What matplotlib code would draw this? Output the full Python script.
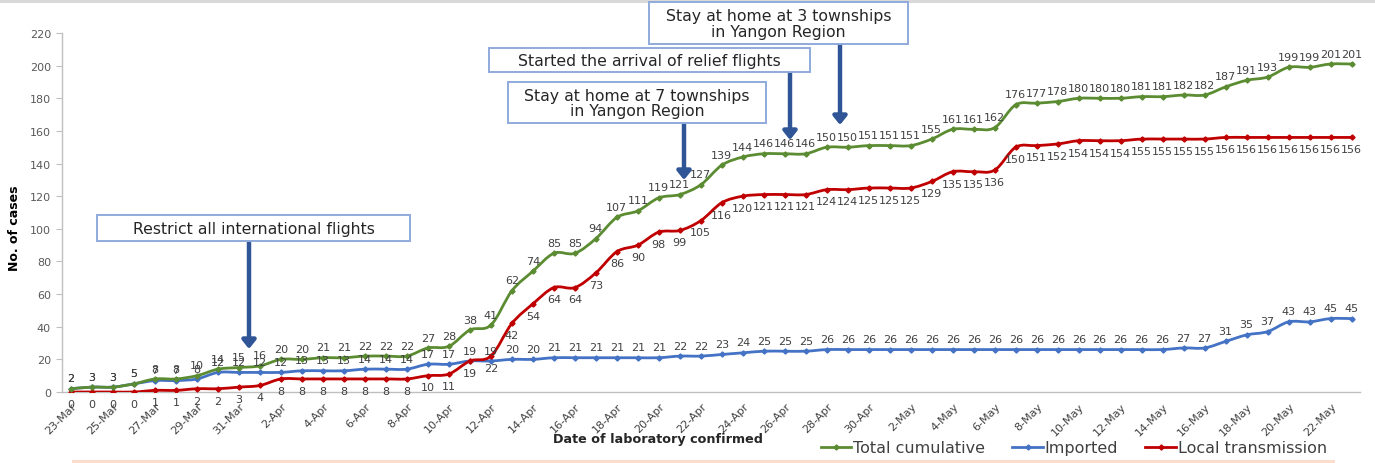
import matplotlib
matplotlib.use("Agg")
import matplotlib.pyplot as plt
import matplotlib.transforms as mtransforms
from matplotlib.path import Path
from matplotlib.patches import PathPatch, Rectangle, FancyArrowPatch
from matplotlib.lines import Line2D
import datetime as dt

# ---------------- data ----------------
start_date = dt.date(2020, 3, 23)
n_days = 62
dates = [start_date + dt.timedelta(days=i) for i in range(n_days)]
date_labels = [f"{d.day}-{d.strftime('%b')}" for d in dates]

total = [2, 3, 3, 5, 8, 8, 10, 14, 15, 16, 20, 20, 21, 21, 22, 22, 22, 27, 28,
         38, 41, 62, 74, 85, 85, 94, 107, 111, 119, 121, 127, 139, 144, 146,
         146, 146, 150, 150, 151, 151, 151, 155, 161, 161, 162, 176, 177, 178,
         180, 180, 180, 181, 181, 182, 182, 187, 191, 193, 199, 199, 201, 201]
imported = [2, 3, 3, 5, 7, 7, 8, 12, 12, 12, 12, 13, 13, 13, 14, 14, 14, 17, 17,
            19, 19, 20, 20, 21, 21, 21, 21, 21, 21, 22, 22, 23, 24, 25, 25, 25,
            26, 26, 26, 26, 26, 26, 26, 26, 26, 26, 26, 26, 26, 26, 26, 26, 26,
            27, 27, 31, 35, 37, 43, 43, 45, 45]
local = [0, 0, 0, 0, 1, 1, 2, 2, 3, 4, 8, 8, 8, 8, 8, 8, 8, 10, 11, 19, 22, 42,
         54, 64, 64, 73, 86, 90, 98, 99, 105, 116, 120, 121, 121, 121, 124, 124,
         125, 125, 125, 129, 135, 135, 136, 150, 151, 152, 154, 154, 154, 155,
         155, 155, 155, 156, 156, 156, 156, 156, 156, 156]

series_names = ["Total cumulative", "Imported", "Local transmission"]
y_ticks = list(range(0, 221, 20))

annotations = [
    ("Restrict all international flights", (97, 216, 410, 242), (249, 242, 350)),
    ("Stay at home at 7 townships\nin Yangon Region", (508, 83, 766, 124), (684, 124, 181)),
    ("Started the arrival of relief flights", (489, 49, 810, 73), (790, 73, 141)),
    ("Stay at home at 3 townships\nin Yangon Region", (649, 3, 908, 45), (840, 45, 126)),
]

# ---------------- figure ----------------
W, H = 1375, 464
fig = plt.figure(figsize=(W / 100, H / 100), dpi=100)
fx = lambda x: x / W
fy = lambda y: 1 - y / H

ax = fig.add_axes([fx(62), fy(393), (1360 - 62) / W, (393 - 34) / H])
ax.set_xlim(-0.43, 61.4)
ax.set_ylim(0, 220)

GREEN, BLUE, RED = "#5b8c32", "#4472c4", "#c00000"
TXT = "#404040"


def smooth_path(xs, ys):
    pts = list(zip(xs, ys))
    n = len(pts)
    verts = [pts[0]]
    codes = [Path.MOVETO]
    for i in range(n - 1):
        p0 = pts[i - 1] if i > 0 else pts[i]
        p1 = pts[i]
        p2 = pts[i + 1]
        p3 = pts[i + 2] if i + 2 < n else pts[i + 1]
        c1 = (p1[0] + (p2[0] - p0[0]) / 6, p1[1] + (p2[1] - p0[1]) / 6)
        c2 = (p2[0] - (p3[0] - p1[0]) / 6, p2[1] - (p3[1] - p1[1]) / 6)
        verts += [c1, c2, p2]
        codes += [Path.CURVE4] * 3
    return Path(verts, codes)


xs = list(range(n_days))
for vals, col in [(imported, BLUE), (local, RED), (total, GREEN)]:
    patch = PathPatch(smooth_path(xs, vals), fill=False, edgecolor=col, lw=2.0,
                      transform=ax.transData, zorder=3, capstyle="round",
                      joinstyle="round")
    ax.add_patch(patch)
    ax.plot(xs, vals, linestyle="none", marker="D", ms=2.6, color=col, zorder=4)

# data labels
LBL = 8
for i in xs:
    ax.annotate(str(total[i]), (i, total[i]), xytext=(0, 7.5),
                textcoords="offset points", ha="center", va="center",
                fontsize=LBL, color=TXT, zorder=5)
    ax.annotate(str(imported[i]), (i, imported[i]), xytext=(0, 7.5),
                textcoords="offset points", ha="center", va="center",
                fontsize=LBL, color=TXT, zorder=5)
    ax.annotate(str(local[i]), (i, local[i]), xytext=(0, -8.5),
                textcoords="offset points", ha="center", va="center",
                fontsize=LBL, color=TXT, zorder=5)

# axes styling
for s in ["top", "right"]:
    ax.spines[s].set_visible(False)
for s in ["left", "bottom"]:
    ax.spines[s].set_color("#bfbfbf")
    ax.spines[s].set_linewidth(1.0)

ax.set_yticks(y_ticks)
ax.set_yticklabels([str(v) for v in y_ticks], fontsize=8, color="#595959")
ax.tick_params(axis="y", length=4, color="#bfbfbf", pad=4)

ax.set_xticks(xs[::2])
ax.set_xticklabels(date_labels[::2], fontsize=8, color=TXT, rotation=45,
                   ha="right", va="center", rotation_mode="anchor")
ax.tick_params(axis="x", length=0, pad=9)
offset = mtransforms.ScaledTranslation(4 / 100, 0, fig.dpi_scale_trans)
for lab in ax.get_xticklabels():
    lab.set_transform(lab.get_transform() + offset)

fig.text(fx(14), fy(228), "No. of cases", rotation=90, ha="center", va="center",
         fontsize=9, fontweight="bold", color="black",
         family=["Liberation Sans Narrow", "DejaVu Sans"])
fig.text(fx(658), fy(440), "Date of laboratory confirmed", ha="center",
         va="center", fontsize=9.2, fontweight="bold", color="#262626")

# annotation boxes and arrows
for text, (x0, y0, x1, y1), (ax_x, a_y0, a_y1) in annotations:
    arr = FancyArrowPatch((fx(ax_x), fy(a_y0)), (fx(ax_x), fy(a_y1)),
                          transform=fig.transFigure,
                          arrowstyle="-|>,head_length=0.5,head_width=0.4",
                          mutation_scale=10, lw=3.2, color="#2f5597",
                          shrinkA=0, shrinkB=0, zorder=6)
    fig.add_artist(arr)
    rect = Rectangle((fx(x0), fy(y1)), (x1 - x0) / W, (y1 - y0) / H,
                     transform=fig.transFigure, facecolor="white",
                     edgecolor="#8faadc", lw=1.4, zorder=7)
    fig.add_artist(rect)
    fig.text(fx((x0 + x1) / 2), fy((y0 + y1) / 2 + 0.5), text, ha="center",
             va="center", fontsize=11.3, color="#262626", zorder=8,
             linespacing=1.05)

# decorative bands
fig.add_artist(Rectangle((0, fy(4)), 1, 4 / H, transform=fig.transFigure,
                         facecolor="#d9d9d9", edgecolor="none", zorder=0))
fig.add_artist(Rectangle((fx(72), 0), (1335 - 72) / W, 3 / H,
                         transform=fig.transFigure, facecolor="#fbdccd",
                         edgecolor="none", zorder=0))

# legend
handles = [Line2D([], [], color=c, lw=2, marker="D", ms=2.6)
           for c in (GREEN, BLUE, RED)]
fig.legend(handles, series_names, loc="center left",
           bbox_to_anchor=(fx(821), fy(449)), ncol=3, frameon=False,
           fontsize=11.5, handlelength=1.9, handletextpad=0.12,
           columnspacing=1.7, borderaxespad=0, borderpad=0,
           labelcolor=TXT)

fig.savefig("out.png", dpi=100)
